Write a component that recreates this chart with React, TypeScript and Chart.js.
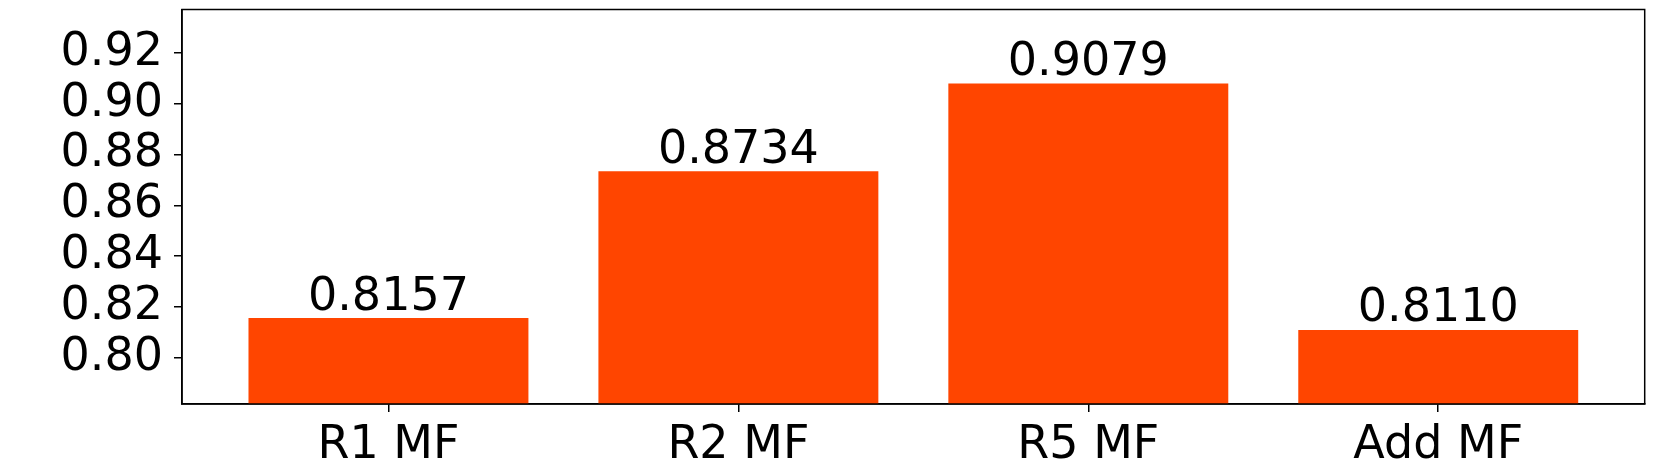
import { useEffect, useRef } from "react";
import { Chart, registerables } from "chart.js";
Chart.register(...registerables);

const categories = ["R1 MF", "R2 MF", "R5 MF", "Add MF"];
const values = [0.8157, 0.8734, 0.9079, 0.811];
const valueLabels = ["0.8157", "0.8734", "0.9079", "0.8110"];
const yTicks = [0.8, 0.82, 0.84, 0.86, 0.88, 0.9, 0.92];

const FONT = "'DejaVu Sans', 'Liberation Sans', sans-serif";

export default function App() {
  const ref = useRef<HTMLCanvasElement | null>(null);
  useEffect(() => {
    if (!ref.current) return;
    const framePlugin = {
      id: "frame",
      afterDraw(chart: any) {
        const { ctx, chartArea } = chart;
        ctx.save();
        ctx.strokeStyle = "#000";
        ctx.lineWidth = 1.5;
        ctx.strokeRect(chartArea.left, chartArea.top, chartArea.right - chartArea.left, chartArea.bottom - chartArea.top);
        ctx.restore();
      },
    };
    const labelPlugin = {
      id: "vlabels",
      afterDatasetsDraw(chart: any) {
        const { ctx } = chart;
        const meta = chart.getDatasetMeta(0);
        ctx.save();
        ctx.fillStyle = "#000";
        ctx.font = `46px ${FONT}`;
        ctx.textAlign = "center";
        ctx.textBaseline = "alphabetic";
        meta.data.forEach((el: any, i: number) => {
          ctx.fillText(valueLabels[i], el.x, el.y - 8.5);
        });
        ctx.restore();
      },
    };
    const chart = new Chart(ref.current, {
      type: "bar",
      data: {
        datasets: [
          {
            data: values.map((v, i) => ({ x: i, y: v })),
            backgroundColor: "#FF4500",
            borderWidth: 0,
            categoryPercentage: 1,
            barPercentage: 0.8,
          },
        ],
      },
      options: {
        responsive: false,
        animation: false,
        layout: { padding: { left: 0, top: 9.5, right: 16.3, bottom: 0 } },
        plugins: { legend: { display: false }, tooltip: { enabled: false } },
        scales: {
          x: {
            type: "linear",
            min: -0.59,
            max: 3.59,
            offset: false,
            grid: { offset: false, drawOnChartArea: false, drawTicks: true, tickLength: 8, color: "#000", lineWidth: 1.5 },
            border: { display: true, color: "#000", width: 1.5 },
            ticks: {
              font: { family: FONT, size: 46 },
              color: "#000",
              padding: 6,
              autoSkip: false,
              maxRotation: 0,
              callback: (v: any) => categories[v as number] ?? "",
            },
            afterBuildTicks: (s: any) => {
              s.ticks = categories.map((_, i) => ({ value: i }));
            },
            afterFit: (s: any) => {
              s.height = 465 - 404;
              s.paddingLeft = 0;
              s.paddingRight = 0;
            },
          },
          y: {
            min: 0.7819,
            max: 0.937,
            grid: { drawOnChartArea: false, drawTicks: true, tickLength: 8, color: "#000", lineWidth: 1.5 },
            border: { display: true, color: "#000", width: 1.5 },
            ticks: {
              font: { family: FONT, size: 46 },
              color: "#000",
              padding: 11,
              callback: (v: any) => Number(v).toFixed(2),
            },
            afterBuildTicks: (s: any) => {
              s.ticks = yTicks.map((v) => ({ value: v }));
            },
            afterFit: (s: any) => {
              s.width = 182;
              s.paddingTop = 0;
              s.paddingBottom = 0;
            },
          },
        },
      },
      plugins: [framePlugin, labelPlugin],
    });
    return () => chart.destroy();
  }, []);
  return (
    <div style={{ position: "absolute", left: 0, top: 0, width: 1661, height: 465, background: "#fff" }}>
      <canvas ref={ref} width={1661} height={465} style={{ width: 1661, height: 465, display: "block" }} />
    </div>
  );
}
